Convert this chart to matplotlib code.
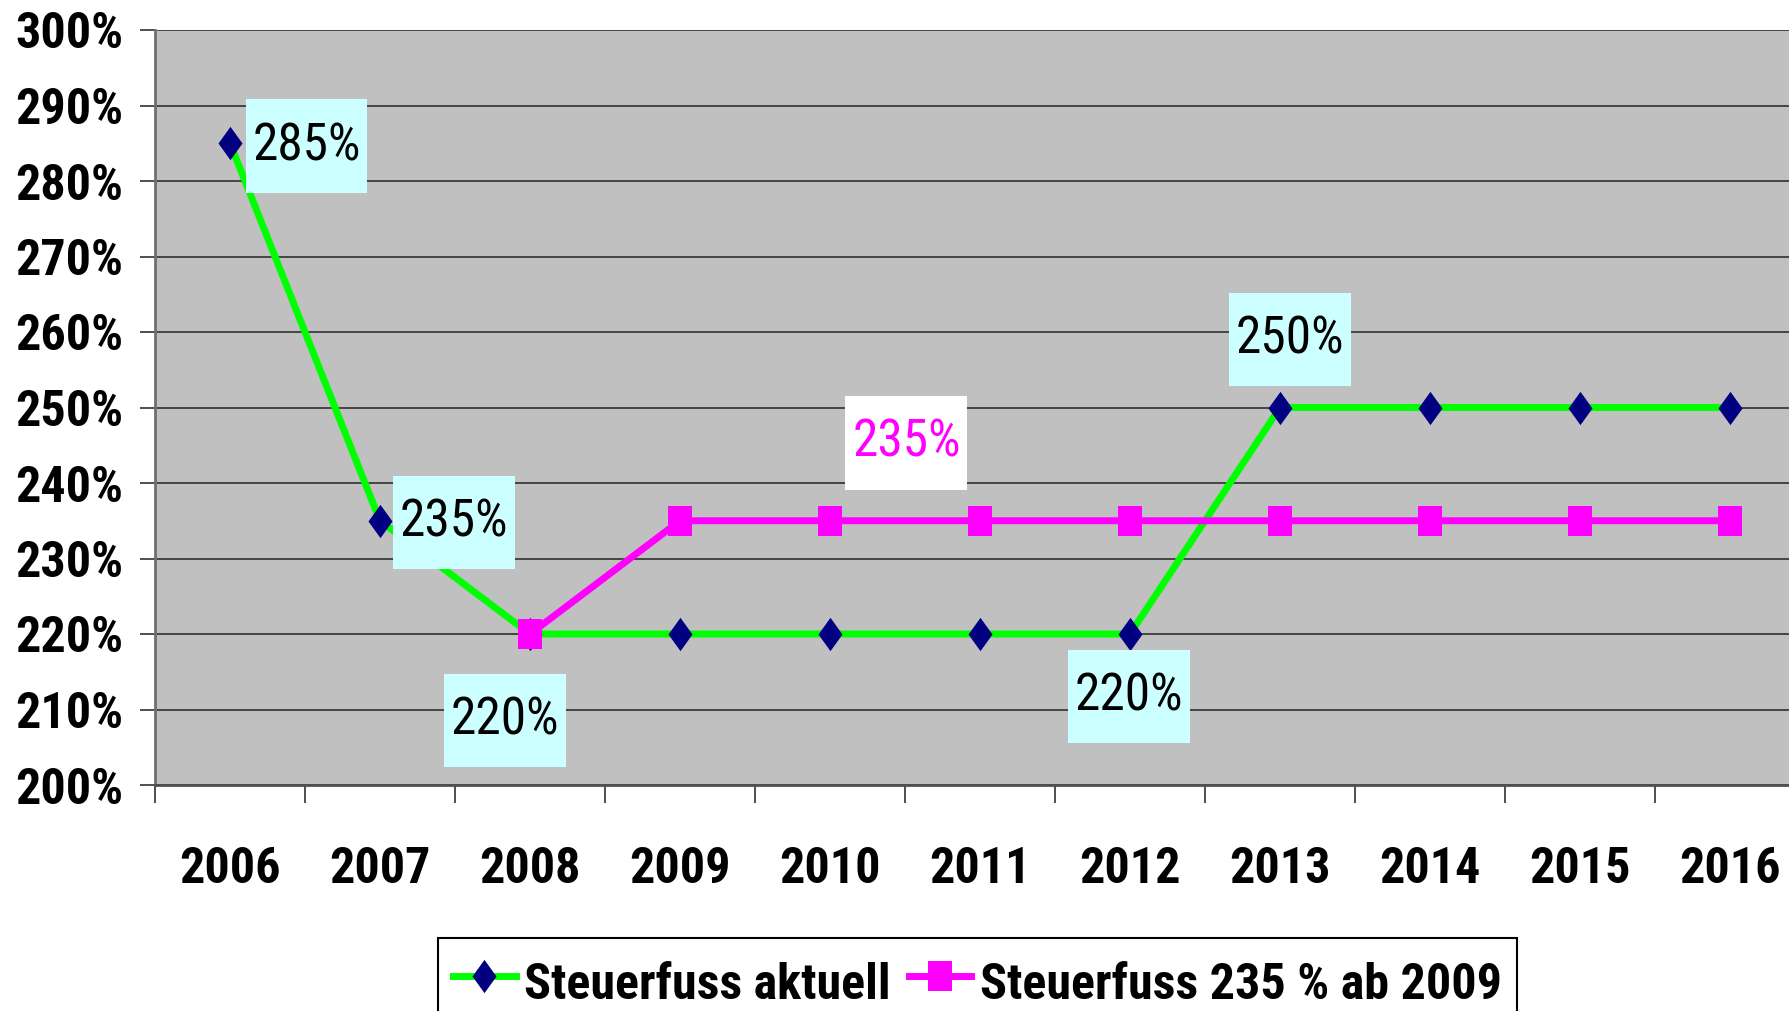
import matplotlib

matplotlib.use("Agg")
import matplotlib.pyplot as plt
import numpy as np
from matplotlib.path import Path

plt.rcParams["font.family"] = ["Roboto Condensed", "Liberation Sans", "DejaVu Sans"]

# --- data -------------------------------------------------------------------------------------------
years = [2006, 2007, 2008, 2009, 2010, 2011, 2012, 2013, 2014, 2015, 2016]
aktuell = [285, 235, 220, 220, 220, 220, 220, 250, 250, 250, 250]
ab_2009 = [np.nan, np.nan, 220, 235, 235, 235, 235, 235, 235, 235, 235]
y_ticks = [200, 210, 220, 230, 240, 250, 260, 270, 280, 290, 300]
series_names = ["Steuerfuss aktuell", "Steuerfuss 235 % ab 2009"]

# data labels: (index into the series, text)
labels_aktuell = [(0, "285%"), (1, "235%"), (2, "220%"), (6, "220%"), (7, "250%")]
labels_ab_2009 = [(4, "235%")]

# --- style ------------------------------------------------------------------------------------------
W, H = 1789, 1011
FS = 36
GREEN, NAVY, MAGENTA = "#00FF00", "#000080", "#FF00FF"
diamond = Path([(0, 1), (0.72, 0), (0, -1), (-0.72, 0), (0, 1)], closed=True)
square = Path([(-0.79, -1), (0.79, -1), (0.79, 1), (-0.79, 1), (-0.79, -1)], closed=True)


def label_box(x0, y0, width, height, mutation_size):
    px, py = 0.13 * mutation_size, 0.42 * mutation_size
    return Path([(x0 - px, y0 - py), (x0 + width + px, y0 - py), (x0 + width + px, y0 + height + py),
                 (x0 - px, y0 + height + py), (x0 - px, y0 - py)], closed=True)


fig = plt.figure(figsize=(W / 100, H / 100), dpi=100)
# plot area runs past the right edge of the picture, as in the original
ax = fig.add_axes([155 / W, 226 / H, 1650 / W, 755 / H])
ax.set_facecolor("#C0C0C0")
x = np.arange(len(years))

ax.plot(x, aktuell, color=GREEN, lw=5, marker=diamond, ms=24, mfc=NAVY, mec=NAVY, mew=0,
        label=series_names[0], zorder=3)
ax.plot(x, ab_2009, color=MAGENTA, lw=5, marker=square, ms=21, mfc=MAGENTA, mec=MAGENTA, mew=0,
        label=series_names[1], zorder=4)

ax.set_xlim(-0.5, len(years) - 0.5)
ax.set_ylim(y_ticks[0], y_ticks[-1])
ax.set_yticks(y_ticks)
ax.set_yticklabels([f"{v}%" for v in y_ticks], fontsize=FS, fontweight="bold")
ax.set_xticks(x)
ax.set_xticklabels([str(y) for y in years], fontsize=FS, fontweight="bold")
ax.set_xticks(np.arange(-0.5, len(years), 1), minor=True)
ax.tick_params(axis="x", which="major", length=0, pad=44)
ax.tick_params(axis="x", which="minor", length=13, width=1.3, color="#404040")
ax.tick_params(axis="y", length=11, width=1.3, color="#404040", pad=12)
ax.yaxis.grid(True, color="#303030", lw=1.2)
ax.set_axisbelow(True)
for side in ("top", "right"):
    ax.spines[side].set_visible(False)
ax.spines["left"].set_color("#707070")
ax.spines["left"].set_linewidth(2)
ax.spines["bottom"].set_color("#505050")
ax.spines["bottom"].set_linewidth(2)

# --- data labels ------------------------------------------------------------------------------------
offs_aktuell = [(55, -2), (53, -1), (-18, -62), (-1, -45), (7, 49)]
for (i, txt), off in zip(labels_aktuell, offs_aktuell):
    ax.annotate(txt, (x[i], aktuell[i]), xytext=off, textcoords="offset points", ha="center", va="center",
                fontsize=FS + 1, color="black", zorder=6,
                bbox=dict(boxstyle=label_box, fc="#CCFFFF", ec="none"))
offs_ab_2009 = [(55, 56)]
for (i, txt), off in zip(labels_ab_2009, offs_ab_2009):
    ax.annotate(txt, (x[i], ab_2009[i]), xytext=off, textcoords="offset points", ha="center", va="center",
                fontsize=FS + 1, color=MAGENTA, zorder=6,
                bbox=dict(boxstyle=label_box, fc="white", ec="none"))

# --- legend -----------------------------------------------------------------------------------------
leg = ax.legend(loc="upper left", bbox_to_anchor=(438 / W, 1 - 938 / H), bbox_transform=fig.transFigure,
                ncol=2, frameon=True, fancybox=False, framealpha=1, edgecolor="black", borderaxespad=0,
                prop=dict(size=FS, weight="bold"), handlelength=1.25, handleheight=1.45,
                handletextpad=0.18, columnspacing=0.35, borderpad=0.3)
leg.get_frame().set_linewidth(1.5)

fig.savefig("out.png", dpi=100)
